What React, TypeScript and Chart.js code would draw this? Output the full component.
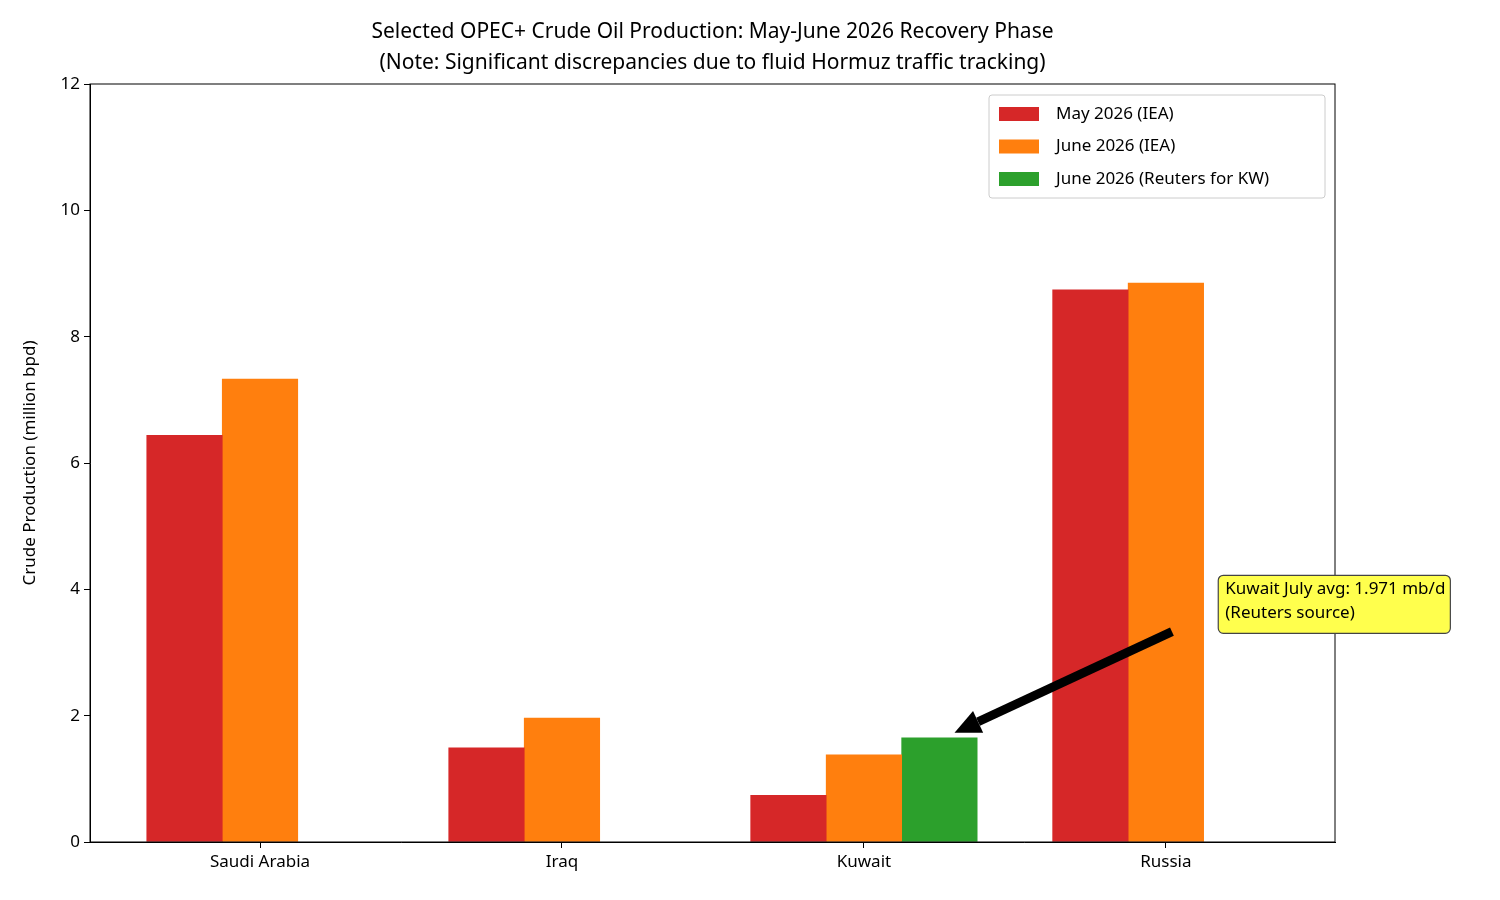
import { useEffect, useRef } from "react";
import { Chart, registerables } from "chart.js";

Chart.register(...registerables);

const categories = ["Saudi Arabia", "Iraq", "Kuwait", "Russia"];
const mayIEA = [6.44, 1.49, 0.74, 8.74];
const juneIEA = [7.33, 1.96, 1.38, 8.85];
const juneReuters = [null, null, 1.65, null];
const seriesLabels = ["May 2026 (IEA)", "June 2026 (IEA)", "June 2026 (Reuters for KW)"];
const seriesColors = ["#d62728", "#ff7f0e", "#2ca02c"];
const yTicks = [0, 2, 4, 6, 8, 10, 12];
const titleLines = [
  "Selected OPEC+ Crude Oil Production: May-June 2026 Recovery Phase",
  "(Note: Significant discrepancies due to fluid Hormuz traffic tracking)",
];
const noteLines = ["Kuwait July avg: 1.971 mb/d", "(Reuters source)"];

const FONT = "'Noto Sans', sans-serif";

function toPoints(values: (number | null)[], offset: number) {
  return values
    .map((v, i) => (v === null ? null : { x: i + offset, y: v }))
    .filter((p) => p !== null);
}

const decorPlugin = {
  id: "decor",
  afterDraw(chart: any) {
    const { ctx, chartArea: a, scales } = chart;
    ctx.save();
    // spines
    ctx.strokeStyle = "#000";
    ctx.lineWidth = 1;
    ctx.strokeRect(a.left, a.top, a.right - a.left, a.bottom - a.top);

    // title
    ctx.fillStyle = "#000";
    ctx.textAlign = "center";
    ctx.textBaseline = "middle";
    ctx.font = `21px ${FONT}`;
    titleLines.forEach((t, i) => ctx.fillText(t, (a.left + a.right) / 2, 32 + i * 31));

    // legend
    const lx = a.right - 346, ly = a.top + 11, lw = 336, lh = 103;
    ctx.fillStyle = "rgba(255,255,255,0.8)";
    ctx.strokeStyle = "#ccc";
    ctx.beginPath();
    ctx.roundRect(lx, ly, lw, lh, 3);
    ctx.fill();
    ctx.stroke();
    ctx.font = `17px ${FONT}`;
    ctx.textAlign = "left";
    seriesLabels.forEach((s, i) => {
      const yy = ly + 19 + i * 32.5;
      ctx.fillStyle = seriesColors[i];
      ctx.fillRect(lx + 10, yy - 7, 40, 14);
      ctx.fillStyle = "#000";
      ctx.fillText(s, lx + 67, yy);
    });

    // annotation
    const x = scales.x, y = scales.y;
    const tipX = x.getPixelForValue(2.3), tipY = y.getPixelForValue(1.73);
    const tailX = x.getPixelForValue(3.02), tailY = y.getPixelForValue(3.33);
    const ang = Math.atan2(tipY - tailY, tipX - tailX);
    const headLen = 26, headW = 12;
    const bx = tipX - headLen * Math.cos(ang), by = tipY - headLen * Math.sin(ang);
    ctx.strokeStyle = "#000";
    ctx.lineWidth = 9;
    ctx.beginPath();
    ctx.moveTo(tailX, tailY);
    ctx.lineTo(bx, by);
    ctx.stroke();
    ctx.fillStyle = "#000";
    ctx.beginPath();
    ctx.moveTo(tipX, tipY);
    ctx.lineTo(bx + headW * Math.sin(ang), by - headW * Math.cos(ang));
    ctx.lineTo(bx - headW * Math.sin(ang), by + headW * Math.cos(ang));
    ctx.closePath();
    ctx.fill();

    const tx = x.getPixelForValue(3.18), ty = y.getPixelForValue(4.0);
    ctx.font = `17px ${FONT}`;
    const w = Math.max(...noteLines.map((l) => ctx.measureText(l).width)) + 12;
    ctx.fillStyle = "#ffff4d";
    ctx.strokeStyle = "#444";
    ctx.lineWidth = 1.2;
    ctx.beginPath();
    ctx.roundRect(tx - 2, ty - 14, w, 58, 5);
    ctx.fill();
    ctx.stroke();
    ctx.fillStyle = "#000";
    noteLines.forEach((l, i) => ctx.fillText(l, tx + 5, ty + i * 24));
    ctx.restore();
  },
};

export default function App() {
  const ref = useRef<HTMLCanvasElement>(null);

  useEffect(() => {
    document.body.style.margin = "0";
    if (!ref.current) return;
    const barStyle = { barThickness: 75.5, grouped: false, borderWidth: 0 };
    const chart = new Chart(ref.current, {
      type: "bar",
      data: {
        datasets: [
          { label: seriesLabels[0], data: toPoints(mayIEA, -0.25), backgroundColor: seriesColors[0], ...barStyle },
          { label: seriesLabels[1], data: toPoints(juneIEA, 0), backgroundColor: seriesColors[1], ...barStyle },
          { label: seriesLabels[2], data: toPoints(juneReuters, 0.25), backgroundColor: seriesColors[2], ...barStyle },
        ] as any,
      },
      options: {
        animation: false,
        responsive: false,
        layout: { padding: { top: 84, right: 165, left: 0, bottom: 0 } },
        plugins: { legend: { display: false }, tooltip: { enabled: false } },
        scales: {
          x: {
            type: "linear",
            offset: false,
            min: -0.563,
            max: 3.56,
            afterBuildTicks: (s: any) => {
              s.ticks = categories.map((_, i) => ({ value: i }));
            },
            afterFit: (s: any) => {
              s.height = 58;
            },
            ticks: {
              callback: (v: any) => categories[v] ?? "",
              color: "#000",
              font: { family: FONT, size: 17 },
              padding: 4,
            },
            grid: { offset: false, drawOnChartArea: false, tickLength: 6, color: "#000" },
            border: { color: "#000" },
          },
          y: {
            min: 0,
            max: 12,
            afterBuildTicks: (s: any) => {
              s.ticks = yTicks.map((v) => ({ value: v }));
            },
            afterFit: (s: any) => {
              s.width = 90;
            },
            ticks: { color: "#000", font: { family: FONT, size: 17 }, padding: 4 },
            grid: { drawOnChartArea: false, tickLength: 6, color: "#000" },
            border: { color: "#000" },
            title: {
              display: true,
              text: "Crude Production (million bpd)",
              color: "#000",
              font: { family: FONT, size: 17 },
              padding: { top: 20, bottom: 0 },
            },
          },
        },
      },
      plugins: [decorPlugin],
    });
    return () => chart.destroy();
  }, []);

  return <canvas ref={ref} width={1500} height={900} style={{ display: "block" }} />;
}
